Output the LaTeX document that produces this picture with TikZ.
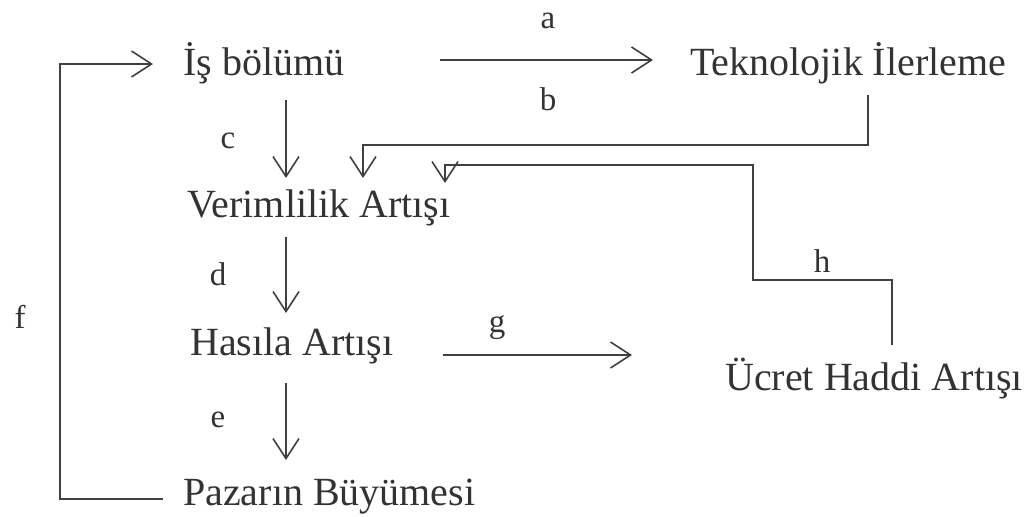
\documentclass[tikz,border=0pt]{standalone}
\usepackage{fontspec}
\setmainfont{Liberation Serif}
\usetikzlibrary{arrows.meta}

\begin{document}
\begin{tikzpicture}[x=1pt, y=-1pt,
    box/.style={anchor=base west, inner sep=0pt, text=black!80,
        font=\fontsize{40}{42}\selectfont},
    tag/.style={anchor=base, inner sep=0pt, text=black!80,
        font=\fontsize{33}{36}\selectfont},
    wire/.style={line width=1.6pt, draw=black!75},
    flow/.style={wire, -{Straight Barb[length=20pt, width=26pt, line width=1.6pt]}}]

\useasboundingbox (0,0) rectangle (1026,517);

% _____ Concepts
\node[box] (is)  at (183,75)  {İş bölümü};
\node[box] (tek) at (690,75)  {Teknolojik İlerleme};
\node[box] (ver) at (187,217) {Verimlilik Artışı};
\node[box] (has) at (190,355) {Hasıla Artışı};
\node[box] (paz) at (183,505) {Pazarın Büyümesi};
\node[box] (ucr) at (725,390) {Ücret Haddi Artışı};

% _____ Main chain
\draw[flow] ([shift={(103,25)}]is.base west) -- ([shift={(99,-39)}]ver.base west);
\draw[flow] ([shift={(99,20)}]ver.base west) -- ([shift={(96,-42)}]has.base west);
\draw[flow] ([shift={(96,28)}]has.base west) -- ([shift={(103,-45)}]paz.base west);

% _____ Side links
\def\LoopX{60}
\draw[flow] ([shift={(-20,-6)}]paz.base west) -- (\LoopX,499) -- (\LoopX,64)
    -- ([shift={(-30,-11)}]is.base west);
\draw[flow] ([shift={(257,-15)}]is.base west) -- ([shift={(-37,-15)}]tek.base west);
\draw[flow] ([shift={(253,0)}]has.base west) -- ([shift={(442,0)}]has.base west);

% _____ Feedback into Verimlilik
\def\BStepY{145}
\def\HStepX{753}
\def\HStepY{280}
\def\HTopY{165}

\draw[flow] ([shift={(178,20)}]tek.base west) -- (868,\BStepY)
    -| ([shift={(176,-39)}]ver.base west);
\draw[flow] ([shift={(167,-45)}]ucr.base west) -- (892,\HStepY) -- (\HStepX,\HStepY)
    -- (\HStepX,\HTopY) -| ([shift={(258,-34)}]ver.base west);

% _____ Labels
\node[tag] (la) at (548,28)  {a};
\node[tag] (lb) at (548,110) {b};
\node[tag] (lc) at (228,148) {c};
\node[tag] (ld) at (218,285) {d};
\node[tag] (le) at (218,427) {e};
\node[tag] (lf) at (20,328)  {f};
\node[tag] (lg) at (497,332) {g};
\node[tag] (lh) at (822,272) {h};

\end{tikzpicture}
\end{document}
